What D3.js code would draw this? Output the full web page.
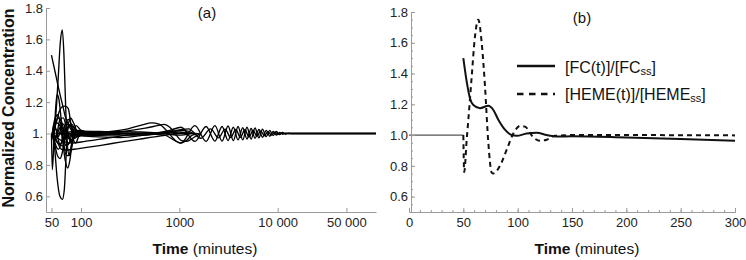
<!DOCTYPE html>
<html>
<head>
<meta charset="utf-8">
<script src="https://cdn.jsdelivr.net/npm/d3@7"></script>
<style>
  body { margin: 0; background: #fff; }
  svg text { font-family: "Liberation Sans", Arial, Helvetica, sans-serif; }
</style>
</head>
<body>
<svg id="chart" width="746" height="260"></svg>
<script>
// panel (a): simulated runs, each point is [time in minutes, normalized concentration]
let runA = [[51, 1.0], [55, 1.1], [58.5, 1.35], [61.5, 1.58], [64.5, 1.66], [67, 1.5], [69.5, 1.2], [72, 0.95], [76, 0.86], [81, 0.92], [88, 1.02], [100, 1.02], [125, 1.0], [200, 1.0]];
let runB = [[51, 1.0], [54, 0.9], [57, 0.72], [61, 0.6], [64.5, 0.58], [67.5, 0.64], [70, 0.82], [73, 1.02], [78, 1.1], [85, 1.06], [95, 0.99], [120, 1.0], [200, 1.0]];
let runC = [[50, 1.5], [55, 1.38], [60, 1.27], [65, 1.18], [69, 1.11], [74, 1.06], [80, 1.02], [90, 1.0], [110, 0.99], [150, 1.0], [250, 1.0]];
let runD = [[50, 1.0], [51, 0.77], [53, 0.95], [55, 1.15], [57, 1.25], [59.5, 1.22], [63, 1.08], [67, 0.93], [71, 0.86], [75, 0.86], [80, 0.93], [88, 1.02], [100, 1.01], [130, 1.0], [250, 1.0]];
let runE = [[52, 1.0], [56, 1.07], [60, 1.14], [64, 1.17], [69, 1.175], [74, 1.16], [78, 1.08], [82, 0.98], [88, 0.94], [96, 0.99], [110, 1.01], [150, 1.0], [250, 1.0]];
let runF = [[52, 1.0], [56, 1.07], [61, 1.05], [65, 0.95], [69, 0.83], [73, 0.78], [77, 0.83], [82, 0.97], [89, 1.05], [100, 1.02], [130, 1.0], [250, 1.0]];
let runG = [[51, 1.0], [54, 0.93], [57.5, 0.86], [61, 0.84], [64, 0.87], [68, 0.97], [73, 1.06], [80, 1.04], [90, 0.99], [115, 1.0], [250, 1.0]];
let runH = [[51, 1.0], [54, 1.09], [58, 1.12], [62, 1.06], [66, 0.97], [71, 0.92], [77, 0.95], [84, 1.03], [95, 1.01], [130, 1.0], [250, 1.0]];
let runI = [[52, 1.0], [55, 0.93], [59, 0.9], [64, 0.96], [69, 1.06], [75, 1.09], [82, 1.03], [92, 0.98], [110, 1.0], [250, 1.0]];
let runJ = [[51, 1.0], [54, 1.05], [58, 1.1], [63, 1.08], [68, 1.0], [74, 0.94], [82, 0.96], [95, 1.01], [130, 1.0], [250, 1.0]];
let runK = [[51, 1.0], [56, 0.95], [61, 0.93], [67, 0.97], [73, 1.04], [80, 1.06], [88, 1.02], [100, 0.99], [130, 1.0], [250, 1.0]];
let runL = [[52, 1.0], [55, 1.03], [59, 0.98], [63, 1.04], [68, 1.02], [74, 0.97], [82, 1.0], [100, 1.005], [300, 1.0]];
let runM = [[52, 1.0], [57, 0.95], [63, 0.9], [72, 0.895], [85, 0.9], [110, 0.91], [160, 0.925], [250, 0.945], [400, 0.965], [650, 0.985], [1000, 1.0], [1500, 1.0]];
let runN = [[52, 1.0], [58, 0.97], [66, 0.95], [80, 0.94], [110, 0.95], [180, 0.97], [300, 0.99], [500, 1.0]];
let runO = [[55, 1.0], [100, 1.0], [180, 1.01], [300, 1.03], [420, 1.055], [520, 1.068], [620, 1.06], [740, 1.02], [880, 0.965], [1020, 0.94], [1180, 0.955], [1350, 0.99], [1600, 1.0]];
let runP = [[55, 1.0], [150, 1.0], [280, 1.015], [450, 1.035], [600, 1.05], [700, 1.058], [800, 1.04], [930, 0.99], [1050, 0.955], [1200, 0.95], [1400, 0.975], [1650, 1.0]];
let runQ = [[100, 1.0], [400, 1.0], [700, 0.99], [1040, 0.94], [1440, 1.05], [1870, 0.95], [2300, 1.05], [2720, 0.952], [3130, 1.048], [3540, 0.955], [3950, 1.045], [4410, 0.96], [4870, 1.04], [5370, 0.965], [5880, 1.035], [6440, 0.972], [7000, 1.028], [7650, 0.98], [8300, 1.02], [9000, 0.987], [9700, 1.013], [10450, 0.993], [11200, 1.007], [12000, 0.997], [12800, 1.003], [14000, 1.0], [100000, 1.0]];
let runR = [[100, 1.0], [500, 1.0], [800, 1.02], [1040, 1.04], [1440, 0.95], [1870, 1.045], [2300, 0.952], [2720, 1.045], [3130, 0.955], [3540, 1.04], [3950, 0.96], [4410, 1.037], [4870, 0.965], [5370, 1.032], [5880, 0.97], [6440, 1.026], [7000, 0.976], [7650, 1.02], [8300, 0.983], [9000, 1.013], [9700, 0.99], [10450, 1.007], [11200, 0.995], [12000, 1.003], [13000, 1.0], [100000, 1.0]];
let runS = [[150, 1.0], [600, 1.0], [1240, 1.03], [1650, 0.97], [2080, 1.03], [2500, 0.972], [2920, 1.028], [3330, 0.974], [3750, 1.026], [4180, 0.976], [4640, 1.024], [5120, 0.978], [5620, 1.021], [6150, 0.982], [6720, 1.017], [7320, 0.986], [7980, 1.012], [8650, 0.99], [9350, 1.008], [10100, 0.995], [10800, 1.003], [12000, 1.0], [100000, 1.0]];
let runT = [[60, 1.0], [100, 1.015], [200, 1.012], [400, 1.01], [700, 1.0], [1000, 0.99], [1300, 1.0]];
let runU = [[60, 1.0], [100, 0.985], [200, 0.99], [400, 0.99], [700, 1.0], [1000, 1.01], [1300, 1.0]];
let runV = [[51, 1.0], [53, 1.06], [56, 1.02], [60, 0.94], [65, 0.92], [70, 0.98], [76, 1.05], [84, 1.04], [95, 1.0], [150, 1.0]];
let runW = [[51, 1.0], [53.5, 0.95], [57, 1.0], [61, 1.09], [66, 1.1], [71, 1.04], [78, 0.96], [87, 0.97], [100, 1.0], [150, 1.0]];
let runX = [[52, 1.0], [55, 0.97], [60, 1.03], [66, 1.06], [72, 1.0], [79, 0.95], [88, 0.99], [110, 1.01], [200, 1.0]];
let runY = [[80, 1.0], [130, 0.98], [250, 0.975], [450, 0.99], [800, 1.01], [1100, 1.02], [1400, 1.0]];
let runsA = [runA, runB, runC, runD, runE, runF, runG, runH, runI, runJ, runK, runL, runM, runN, runO, runP, runQ, runR, runS, runT, runU, runV, runW, runX, runY];

let timeTicksA = [50, 100, 1000, 10000, 50000];
let timeTickLabelsA = ["50", "100", "1000", "10 000", "50 000"];
let concTicks = [0.6, 0.8, 1.0, 1.2, 1.4, 1.6, 1.8];

// panel (b)
let baseTimeB = [0, 50];
let baseValueB = [1.0, 1.0];
let fcTime = [50, 53.1, 56.1, 59.2, 65.3, 73, 77.6, 82.2, 88.3, 94.5, 99, 108.3, 117.5, 126.7, 136, 150, 200, 250, 300];
let fcValue = [1.50, 1.347, 1.24, 1.195, 1.175, 1.19, 1.163, 1.10, 1.035, 1.0, 0.995, 1.01, 1.015, 1.0, 0.99, 0.993, 0.985, 0.975, 0.963];
let hemeTime = [50, 50.8, 53.1, 54.6, 57.7, 60.7, 63.8, 66.9, 69.9, 73, 76.1, 77.6, 83.7, 89.9, 96, 102.2, 106.7, 114.4, 120.5, 126.7, 134.4, 150, 200, 300];
let hemeValue = [1.0, 0.76, 0.97, 1.10, 1.38, 1.64, 1.75, 1.60, 1.32, 0.95, 0.756, 0.75, 0.80, 0.905, 1.01, 1.06, 1.055, 0.985, 0.963, 0.97, 0.995, 1.0, 1.0, 0.998];
let timeTicksB = [0, 50, 100, 150, 200, 250, 300];

let svg = d3.select("#chart");

function styleAxis(g) {
   g.select(".domain").attr("stroke", "#9a9a9a").attr("stroke-width", 1);
   g.selectAll(".tick line").attr("stroke", "#9a9a9a");
   g.selectAll(".tick text")
      .attr("fill", "#222")
      .attr("font-size", 13)
      .attr("font-family", '"Liberation Sans", Arial, sans-serif');
}

// ---------- panel (a) ----------
let xA = d3.scaleLog().domain([44, 100000]).range([46, 376]);
let yA = d3.scaleLinear().domain([0.5, 1.8]).range([212, 8]);

svg.append("clipPath").attr("id", "clipA")
   .append("rect").attr("x", 46).attr("y", 0).attr("width", 332).attr("height", 214);

let lineA = d3.line()
   .x(function (d) { return xA(d[0]); })
   .y(function (d) { return yA(d[1]); })
   .curve(d3.curveMonotoneX);

svg.append("g")
   .attr("clip-path", "url(#clipA)")
   .selectAll("path")
   .data(runsA)
   .enter().append("path")
   .attr("d", lineA)
   .attr("fill", "none")
   .attr("stroke", "#000")
   .attr("stroke-width", 1.35);

svg.append("g")
   .attr("transform", "translate(0,212)")
   .call(d3.axisBottom(xA).tickValues(timeTicksA)
      .tickFormat(function (d, i) { return timeTickLabelsA[i]; })
      .tickSizeInner(-4).tickSizeOuter(0).tickPadding(6))
   .call(styleAxis);

svg.append("g")
   .attr("transform", "translate(46,0)")
   .call(d3.axisLeft(yA).tickValues(concTicks)
      .tickFormat(function (d) { return d === 1 ? "1." : d3.format(".1f")(d); })
      .tickSizeInner(-4).tickSizeOuter(0).tickPadding(3))
   .call(styleAxis);

// ---------- panel (b) ----------
let xB = d3.scaleLinear().domain([0, 300]).range([409, 735]);
let yB = d3.scaleLinear().domain([0.5, 1.8]).range([212, 12]);

let lineB = d3.line()
   .x(function (d) { return xB(d[0]); })
   .y(function (d) { return yB(d[1]); })
   .curve(d3.curveMonotoneX);

let baseData = baseTimeB.map(function (t, i) { return [t, baseValueB[i]]; });
let fcData = fcTime.map(function (t, i) { return [t, fcValue[i]]; });
let hemeData = hemeTime.map(function (t, i) { return [t, hemeValue[i]]; });

svg.append("path").datum(baseData)
   .attr("d", lineB).attr("fill", "none")
   .attr("stroke", "#555").attr("stroke-width", 1.3);

svg.append("path").datum(hemeData)
   .attr("d", lineB).attr("fill", "none")
   .attr("stroke", "#111").attr("stroke-width", 2)
   .attr("stroke-dasharray", "5,4");

svg.append("path").datum(fcData)
   .attr("d", lineB).attr("fill", "none")
   .attr("stroke", "#111").attr("stroke-width", 2);

// minor ticks first, then major ticks with labels
svg.append("g")
   .attr("transform", "translate(0,212)")
   .call(d3.axisBottom(xB).tickValues(d3.range(0, 301, 10)).tickFormat("")
      .tickSizeInner(-2).tickSizeOuter(0))
   .call(styleAxis);
svg.append("g")
   .attr("transform", "translate(0,212)")
   .call(d3.axisBottom(xB).tickValues(timeTicksB)
      .tickSizeInner(-4).tickSizeOuter(0).tickPadding(6))
   .call(styleAxis);

svg.append("g")
   .attr("transform", "translate(411,0)")
   .call(d3.axisLeft(yB).tickValues(d3.range(0.5, 1.81, 0.05)).tickFormat("")
      .tickSizeInner(-2).tickSizeOuter(0))
   .call(styleAxis);
svg.append("g")
   .attr("transform", "translate(411,0)")
   .call(d3.axisLeft(yB).tickValues(concTicks).tickFormat(d3.format(".1f"))
      .tickSizeInner(-4).tickSizeOuter(0).tickPadding(3))
   .call(styleAxis);

// ---------- labels ----------
svg.append("text")
   .attr("transform", "translate(14,108) rotate(-90)")
   .attr("text-anchor", "middle")
   .attr("font-size", 16)
   .attr("font-weight", "bold")
   .attr("fill", "#111")
   .text("Normalized Concentration");

function timeTitle(cx) {
   let t = svg.append("text")
      .attr("x", cx).attr("y", 254)
      .attr("text-anchor", "middle")
      .attr("font-size", 15.5)
      .attr("fill", "#111");
   t.append("tspan").attr("font-weight", "bold").text("Time");
   t.append("tspan").text(" (minutes)");
}
timeTitle(205);
timeTitle(587);

svg.append("text").attr("x", 207).attr("y", 18).attr("text-anchor", "middle")
   .attr("font-size", 15).attr("fill", "#111").text("(a)");
svg.append("text").attr("x", 582).attr("y", 23).attr("text-anchor", "middle")
   .attr("font-size", 15).attr("fill", "#111").text("(b)");

// legend
svg.append("line").attr("x1", 517).attr("x2", 555).attr("y1", 66).attr("y2", 66)
   .attr("stroke", "#111").attr("stroke-width", 2.5);
svg.append("line").attr("x1", 517).attr("x2", 555).attr("y1", 94).attr("y2", 94)
   .attr("stroke", "#111").attr("stroke-width", 2.5).attr("stroke-dasharray", "6.5,5.5");

function legendText(y, name) {
   let t = svg.append("text").attr("x", 565).attr("y", y)
      .attr("font-size", 16).attr("fill", "#111");
   t.append("tspan").text("[" + name + "(t)]/[" + name);
   t.append("tspan").attr("font-size", 11).attr("dy", 1.5).text("ss");
   t.append("tspan").attr("dy", -1.5).text("]");
}
legendText(73, "FC");
legendText(100, "HEME");
</script>
</body>
</html>
